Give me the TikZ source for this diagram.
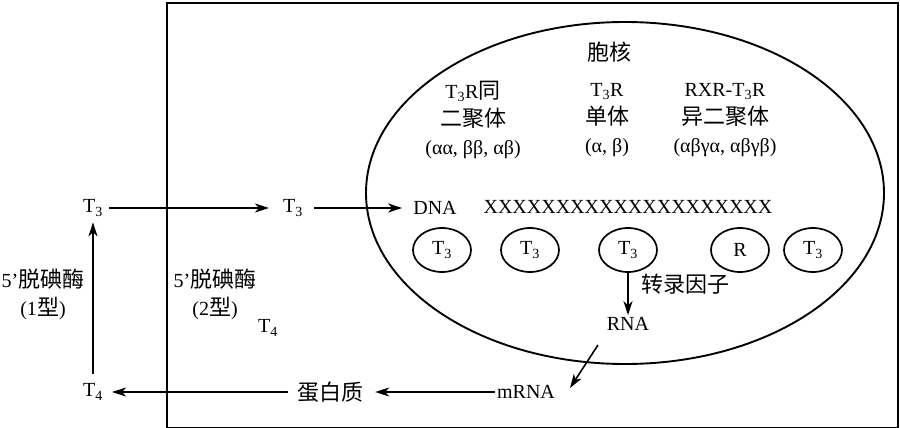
\documentclass[tikz,border=0pt]{standalone}
\usepackage{fontspec}
\setmainfont{Liberation Serif}
\newfontfamily\cjk{Noto Sans CJK SC}[Scale=1.1]
\usetikzlibrary{arrows.meta,shapes.geometric}
\newcommand\Tth{T\textsubscript{3}}
\newcommand\Tfo{T\textsubscript{4}}
\begin{document}
\begin{tikzpicture}[x=1pt,y=-1pt,
  every node/.style={font=\fontsize{20}{28}\selectfont, inner sep=2pt},
  arr/.style={-{Stealth[length=14pt,width=9pt,inset=4pt]}, line width=1.6pt},
  smallell/.style={draw, ellipse, line width=1.7pt, minimum width=58pt, minimum height=44pt, inner sep=0pt},
  hdr/.style={align=center}]
\useasboundingbox (0,0) rectangle (900,428);
\fill[white] (0,0) rectangle (900,428);
\node[draw, line width=1.9pt, minimum width=731pt, minimum height=425pt, anchor=north west, inner sep=0pt] (cellbox) at (166,2) {};
\node[draw, ellipse, line width=1.9pt, minimum width=518pt, minimum height=342pt, inner sep=0pt] (nucleus) at (625,193) {};

\node (hx) at (609,52) {\cjk 胞核};
\node[hdr] (h1) at (473,120) {T\textsubscript{3}R{\cjk 同}\\{\cjk 二聚体}\\(αα, ββ, αβ)};
\node[hdr] (h2) at (607,120) {T\textsubscript{3}R\\{\cjk 单体}\\(α, β)};
\node[hdr] (h3) at (725,120) {RXR-T\textsubscript{3}R\\{\cjk 异二聚体}\\(αβγα, αβγβ)};

\node (dna) at (435,208) {DNA};
\node (xs) at (628,207) {XXXXXXXXXXXXXXXXXXXX};

\node[smallell] (e1) at (442,250) {\Tth};
\node[smallell] (e2) at (530,250) {\Tth};
\node[smallell] (e3) at (628,250) {\Tth};
\node[smallell] (e4) at (740,250) {R};
\node[smallell] (e5) at (813,250) {\Tth};

\node (tf) at (685,284) {\cjk 转录因子};
\node (rna) at (628,324) {RNA};
\node (mrna) at (526,392) {mRNA};
\node (prot) at (330,392) {\cjk 蛋白质};

\node (t3l) at (93,208) {\Tth};
\node (t3m) at (293,208) {\Tth};
\node (t4l) at (93,392) {\Tfo};
\node (t4m) at (268,328) {\Tfo};
\node[hdr] (d1) at (43,294) {5’{\cjk 脱碘酶}\\(1{\cjk 型})};
\node[hdr] (d2) at (215,294) {5’{\cjk 脱碘酶}\\(2{\cjk 型})};

\coordinate (rs) at (598,345);
\coordinate (me) at (570,388);

\draw[arr, shorten <=4pt, shorten >=12pt] (t3l) -- (t3m);
\draw[arr, shorten <=9pt, shorten >=9pt] (t3m) -- (dna);
\draw[arr, shorten <=8pt, shorten >=4pt] (t4l) -- (t3l);
\draw[arr, shorten <=7pt, shorten >=7pt] (prot) -- (t4l);
\draw[arr, shorten >=10pt] (mrna) -- (prot);
\draw[arr] (e3) -- (rna);
\draw[arr] (rs) -- (me);
\end{tikzpicture}
\end{document}
